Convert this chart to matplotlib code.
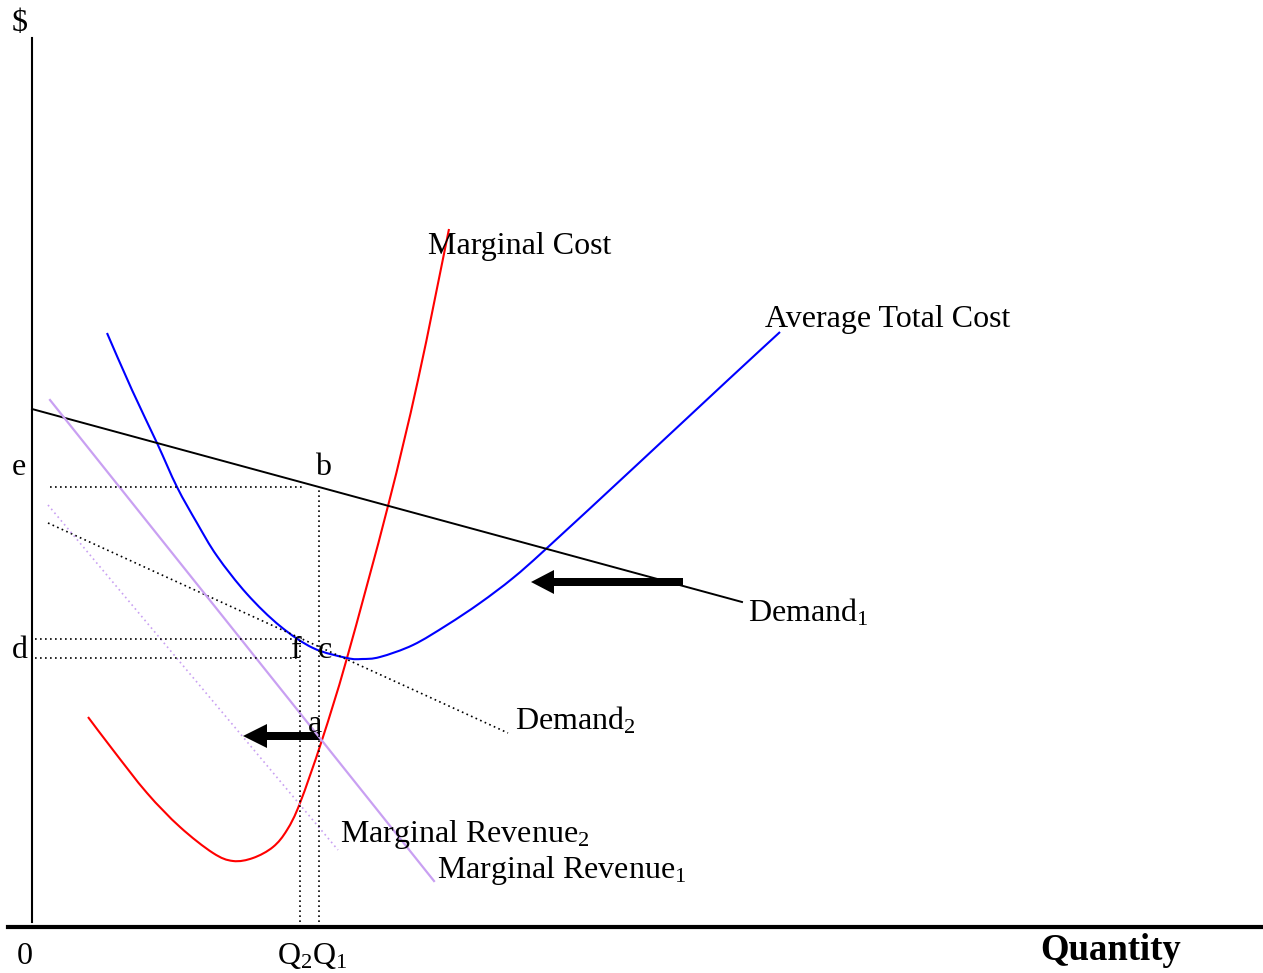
import matplotlib
matplotlib.use("Agg")
import matplotlib.pyplot as plt
import numpy as np
from matplotlib.path import Path
from matplotlib.patches import PathPatch

plt.rcParams['font.family'] = ['Liberation Serif', 'DejaVu Serif']
plt.rcParams['mathtext.fontset'] = 'custom'
plt.rcParams['mathtext.rm'] = 'Liberation Serif'
plt.rcParams['mathtext.it'] = 'Liberation Serif:italic'

# curves, in (quantity, price) units measured from the origin
demand1_q = [0, 710]
demand1_p = [518, 325]
demand2_q = [16, 476]
demand2_p = [404, 194]
mr1_q = [18, 402]
mr1_p = [527, 46]
mr2_q = [16, 306]
mr2_p = [422, 77]

mc_q = [56, 81, 115, 148, 181, 201, 221, 241, 255, 268, 290, 315, 356, 386, 417]
mc_p = [210, 177, 134, 100, 74, 66, 69, 80, 97, 124, 187, 269, 421, 547, 698]

atc_q = [75, 100, 125, 145, 165, 185, 215, 248, 281, 315, 330, 348, 381, 415, 448, 481, 515, 608, 696, 748]
atc_p = [594, 537, 484, 440, 404, 371, 333, 301, 279, 269, 268, 270, 282, 302, 324, 349, 379, 465, 547, 595]

# key points
q1, q2 = 287, 268
price_e = 440      # b on demand 1
price_f = 288      # f on demand 2
price_c = 269      # c on ATC
price_a = 191      # a, MR1 = MC


def smooth_path(xs, ys):
    # catmull-rom through the read points, drawn as bezier segments
    pts = np.column_stack([xs, ys]).astype(float)
    ext = np.vstack([pts[0], pts, pts[-1]])
    verts = [pts[0]]
    codes = [Path.MOVETO]
    for i in range(1, len(ext) - 2):
        p0, p1, p2, p3 = ext[i - 1], ext[i], ext[i + 1], ext[i + 2]
        verts += [p1 + (p2 - p0) / 6, p2 - (p3 - p1) / 6, p2]
        codes += [Path.CURVE4] * 3
    return Path(verts, codes)


fig = plt.figure(figsize=(12.63, 9.73), dpi=100)
ax = fig.add_axes([0, 0, 1, 1])
ax.set_xlim(-32, 1231)
ax.set_ylim(-46, 927)
ax.axis('off')

# axes
ax.plot([0, 0], [5, 889], color='black', lw=1.5)
ax.plot([-24, 1231], [0, 0], color='black', lw=3)

lav = '#C9A0F2'
ax.plot(demand1_q, demand1_p, color='black', lw=1.4)
ax.plot(demand2_q, demand2_p, color='black', lw=1.2, ls=(0, (1, 2)))
ax.plot(mr1_q, mr1_p, color=lav, lw=1.6)
ax.plot(mr2_q, mr2_p, color=lav, lw=1.2, ls=(0, (1, 2)))
ax.add_patch(PathPatch(smooth_path(mc_q, mc_p), fill=False, edgecolor='red', lw=1.5))
ax.add_patch(PathPatch(smooth_path(atc_q, atc_p), fill=False, edgecolor='blue', lw=1.5))

# dotted guides
dot = dict(color='black', lw=1.2, ls=(0, (1, 2)))
ax.plot([18, q1 - 17], [price_e, price_e], **dot)
ax.plot([3, q2 - 7], [price_f, price_f], **dot)
ax.plot([3, q2 - 2], [price_c, price_c], **dot)
ax.plot([q2, q2], [0, price_f], **dot)
ax.plot([q1, q1], [0, price_e], **dot)

# shift arrows
ax.arrow(651, 345, -152, 0, width=8, head_width=24, head_length=23,
         length_includes_head=True, color='black', lw=0)
ax.arrow(288, price_a, -77, 0, width=8, head_width=24, head_length=24,
         length_includes_head=True, color='black', lw=0)

fs = 23
ax.text(-20, 896, '$', fontsize=fs, va='baseline')
ax.text(-20, 452, 'e', fontsize=fs, va='baseline')
ax.text(-20, 269, 'd', fontsize=fs, va='baseline')
ax.text(283, 452, 'b', fontsize=fs, va='baseline')
ax.text(259, 269, 'f', fontsize=fs, va='baseline')
ax.text(286, 269, 'c', fontsize=fs, va='baseline')
ax.text(276, 195, 'a', fontsize=fs, va='baseline')
ax.text(-15, -37, '0', fontsize=fs, va='baseline')
ax.text(245, -37, r'Q$_\mathrm{2}$Q$_\mathrm{1}$', fontsize=fs, va='baseline')
ax.text(1008, -33, 'Quantity', fontsize=26.5, fontweight='bold', va='baseline')
ax.text(396, 673, 'Marginal Cost', fontsize=fs, va='baseline')
ax.text(733, 600, 'Average Total Cost', fontsize=fs, va='baseline')
ax.text(716, 305, r'Demand$_\mathrm{1}$', fontsize=fs, va='baseline')
ax.text(483, 197, r'Demand$_\mathrm{2}$', fontsize=fs, va='baseline')
ax.text(308, 85, r'Marginal Revenue$_\mathrm{2}$', fontsize=fs, va='baseline')
ax.text(405, 49, r'Marginal Revenue$_\mathrm{1}$', fontsize=fs, va='baseline')

fig.savefig('out.png', dpi=100)
